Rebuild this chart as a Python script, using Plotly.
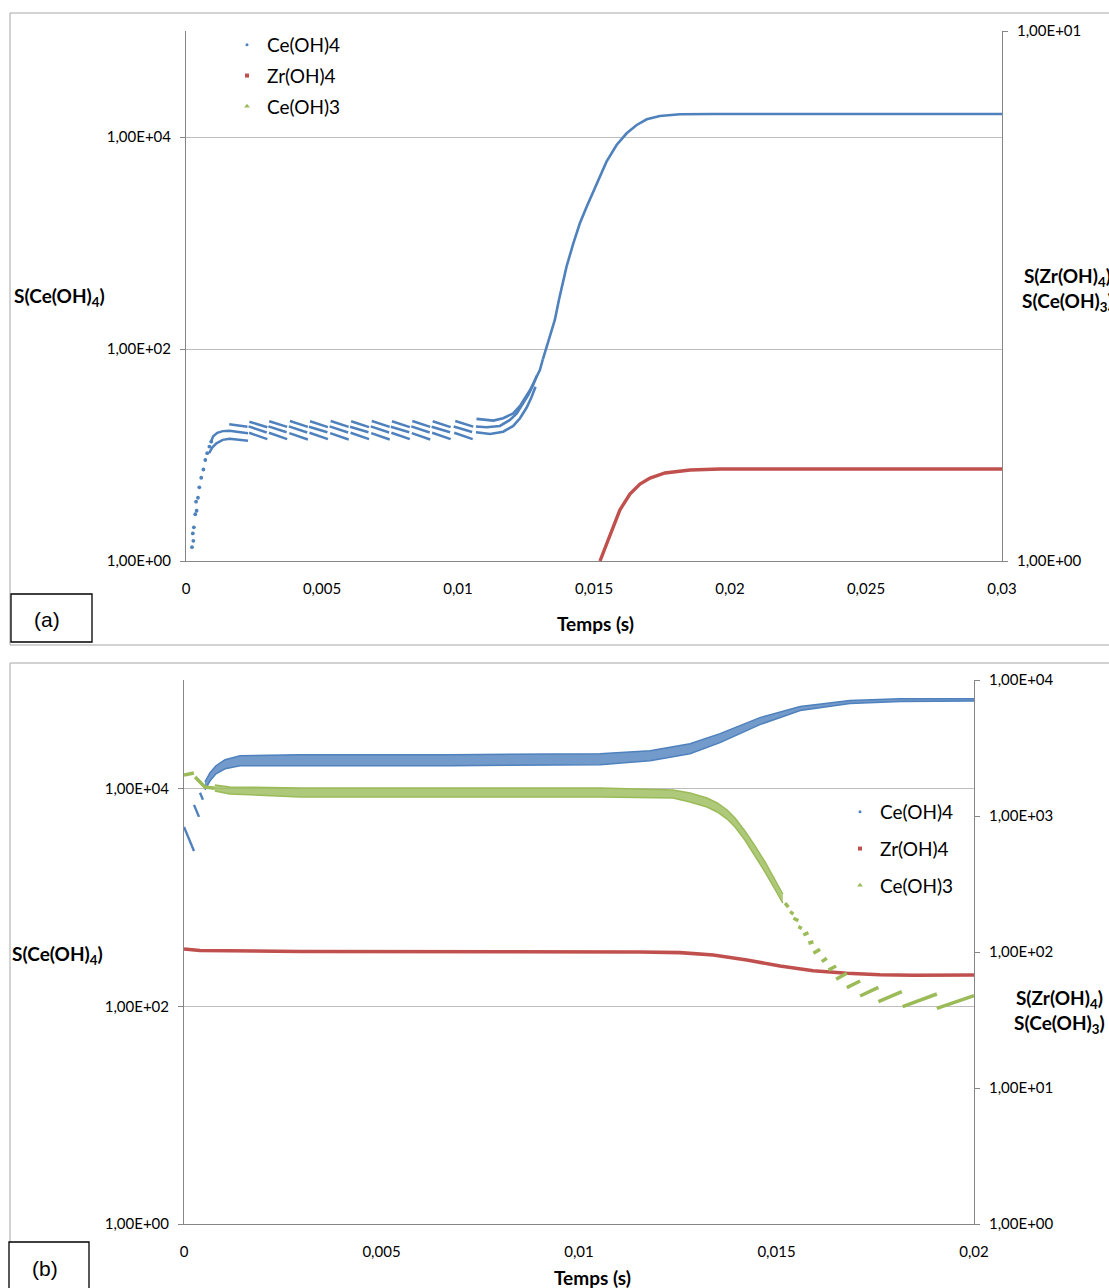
import plotly.graph_objects as go

W, H = 1109, 1288

# ---------------- Panel (a) data ----------------
a_x_tickvals = [0, 0.005, 0.01, 0.015, 0.02, 0.025, 0.03]
a_x_ticktext = ["0", "0,005", "0,01", "0,015", "0,02", "0,025", "0,03"]
a_left_tickvals = [1, 1e2, 1e4]
a_left_ticktext = ["1,00E+00", "1,00E+02", "1,00E+04"]
a_right_tickvals = [1, 10]
a_right_ticktext = ["1,00E+00", "1,00E+01"]

# Ce(OH)4 : first scattered points
a_ce4_init_t = [0.00022, 0.00025, 0.00027, 0.00029, 0.00034, 0.00037, 0.00039, 0.00044,
                0.00049, 0.00056, 0.00064, 0.00071, 0.00078, 0.00086, 0.00093]
a_ce4_init_v = [1.35, 1.82, 1.55, 2.08, 2.76, 3.63, 2.98, 3.95,
                4.96, 6.1, 7.3, 8.97, 10.4, 12.0, 13.4]
# Ce(OH)4 : transition curves into the plateau
a_ce4_tr1_t = [0.00090, 0.00100, 0.00115, 0.00135, 0.00160, 0.00228]
a_ce4_tr1_v = [13.0, 15.0, 16.2, 16.8, 16.9, 16.0]
a_ce4_tr2_t = [0.00085, 0.00097, 0.00112, 0.00135, 0.00160, 0.00228]
a_ce4_tr2_v = [10.4, 11.8, 12.9, 13.9, 14.2, 13.6]
# Ce(OH)4 : saw-tooth stripes of the plateau (three staggered rows)
a_str_t0 = [0.00159, 0.00233, 0.00306, 0.00382, 0.00456, 0.00532, 0.00607, 0.00683,
            0.00757, 0.00832, 0.00907, 0.00990]
a_str_t1 = [0.00226, 0.00299, 0.00372, 0.00448, 0.00522, 0.00598, 0.00673, 0.00749,
            0.00823, 0.00898, 0.00973, 0.01056]
a_strA_v0 = [19.5, 20.6, 20.8, 20.9, 20.8, 20.9, 20.8, 20.9, 20.8, 20.9, 20.8, 20.9]
a_strA_v1 = [18.5, 18.3, 18.4, 18.4, 18.3, 18.4, 18.3, 18.4, 18.3, 18.4, 18.3, 18.5]
a_strB_t0 = [0.00230, 0.00303, 0.00378, 0.00452, 0.00528, 0.00603, 0.00679, 0.00753,
             0.00828, 0.00903, 0.00984]
a_strB_t1 = [0.00297, 0.00370, 0.00446, 0.00520, 0.00596, 0.00671, 0.00747, 0.00821,
             0.00896, 0.00971, 0.01052]
a_strB_v0 = [18.6, 18.6, 18.6, 18.5, 18.6, 18.5, 18.6, 18.5, 18.6, 18.5, 18.6]
a_strB_v1 = [16.3, 16.4, 16.3, 16.4, 16.3, 16.4, 16.3, 16.4, 16.3, 16.4, 16.5]
a_strC_t0 = [0.00232, 0.00305, 0.00380, 0.00454, 0.00530, 0.00605, 0.00681, 0.00755,
             0.00830, 0.00905, 0.00986]
a_strC_t1 = [0.00299, 0.00372, 0.00448, 0.00522, 0.00598, 0.00673, 0.00749, 0.00823,
             0.00898, 0.00973, 0.01054]
a_strC_v0 = [16.2, 16.2, 16.1, 16.2, 16.1, 16.2, 16.1, 16.2, 16.1, 16.2, 16.2]
a_strC_v1 = [14.1, 14.1, 14.0, 14.1, 14.0, 14.1, 14.0, 14.1, 14.0, 14.1, 14.1]
# Ce(OH)4 : three curves of the rise, then merged curve
a_rise_top_t = [0.01068, 0.0113, 0.01166, 0.01203, 0.01228, 0.01246, 0.01265, 0.01283, 0.01301, 0.01312]
a_rise_top_v = [21.9, 21.1, 22.2, 24.7, 29.0, 34.3, 41.0, 51.0, 63.4, 80.0]
a_rise_mid_t = [0.01066, 0.01105, 0.01154, 0.01191, 0.01216, 0.0124, 0.01258, 0.01275, 0.0129]
a_rise_mid_v = [18.6, 18.3, 18.8, 21.4, 24.7, 30.7, 36.8, 45.0, 56.0]
a_rise_bot_t = [0.01066, 0.01118, 0.01166, 0.01203, 0.01228, 0.01253, 0.0127, 0.01285]
a_rise_bot_v = [16.4, 15.8, 16.6, 18.8, 22.2, 28.2, 35.0, 44.0]
a_ce4_main_t = [0.01312, 0.01324, 0.01338, 0.01356, 0.01371, 0.01399, 0.01424, 0.01448, 0.01473,
                0.0151, 0.01546, 0.01583, 0.0162, 0.01657, 0.01694, 0.01742, 0.01816, 0.01938, 0.03]
a_ce4_main_v = [80, 100, 135, 188, 290, 598, 993, 1535, 2200,
                3650, 5850, 8410, 10840, 12980, 14690, 15780, 16370, 16480, 16480]
# Zr(OH)4 (right axis)
a_zr4_t = [0.01522, 0.0154, 0.01559, 0.01577, 0.01595, 0.01632, 0.01669, 0.01706,
           0.01761, 0.01853, 0.01963, 0.03]
a_zr4_v = [1.0, 1.058, 1.12, 1.185, 1.248, 1.338, 1.397, 1.434, 1.466, 1.485, 1.491, 1.491]

# ---------------- Panel (b) data ----------------
b_x_tickvals = [0, 0.005, 0.01, 0.015, 0.02]
b_x_ticktext = ["0", "0,005", "0,01", "0,015", "0,02"]
b_left_tickvals = [1, 1e2, 1e4]
b_left_ticktext = ["1,00E+00", "1,00E+02", "1,00E+04"]
b_right_tickvals = [1, 10, 100, 1000, 10000]
b_right_ticktext = ["1,00E+00", "1,00E+01", "1,00E+02", "1,00E+03", "1,00E+04"]

# Ce(OH)4 (left axis): first short runs
b_ce4_run_t = [[0, 0.00013, 0.000253], [0.000253, 0.00038], [0.000405, 0.00048]]
b_ce4_run_v = [[4465, 3460, 2685], [7120, 5520], [9190, 7925]]
# Ce(OH)4 band (upper / lower envelope)
b_ce4_band_t = [0.00053, 0.00066, 0.00081, 0.00104, 0.00142, 0.00294, 0.00674, 0.01053,
                0.0118, 0.01281, 0.01357, 0.01458, 0.0156, 0.01686, 0.01813, 0.02]
b_ce4_up_v = [11610, 14040, 16290, 18500, 20140, 20570, 20570, 21040,
              22400, 25980, 32150, 45100, 57000, 64700, 67400, 67400]
b_ce4_lo_v = [9790, 11850, 13750, 15280, 16290, 16290, 16290, 16640,
              18120, 21040, 26550, 38900, 52400, 60700, 63400, 64000]
# Zr(OH)4 (right axis)
b_zr4_t = [0, 0.0004, 0.00294, 0.008, 0.01155, 0.01256, 0.0134, 0.01425, 0.01509,
           0.01593, 0.01636, 0.01678, 0.01762, 0.01847, 0.02]
b_zr4_v = [105.2, 102.6, 100.8, 100.8, 100.0, 98.9, 95.1, 87.4, 78.8,
           72.9, 71.3, 69.7, 68.1, 67.4, 67.8]
# Ce(OH)3 (right axis)
b_ce3_run_t = [[0, 0.0001, 0.0002, 0.00025], [0.00028, 0.0004, 0.00053, 0.00078]]
b_ce3_run_v = [[2000, 2040, 2070, 2070], [1936, 1778, 1633, 1600]]
b_ce3_band_t = [0.00078, 0.00116, 0.00294, 0.00674, 0.01053, 0.01238, 0.01281, 0.01324,
                0.0135, 0.01375, 0.01395, 0.0142, 0.01446, 0.01471, 0.01496, 0.01516]
b_ce3_up_v = [1690, 1634, 1607, 1607, 1607, 1553, 1476, 1356,
              1247, 1107, 967, 776, 601, 459, 344, 267]
b_ce3_lo_v = [1527, 1452, 1380, 1380, 1380, 1356, 1267, 1164,
              1070, 950, 830, 666, 508, 387, 290, 229]
b_ce3_dash_t0 = [0.015217, 0.015344, 0.015428, 0.015554, 0.01568, 0.015807, 0.015934, 0.016147,
                 0.016314, 0.016509, 0.01678, 0.017117, 0.01758, 0.018193, 0.019059]
b_ce3_dash_t1 = [0.015301, 0.015428, 0.015554, 0.01564, 0.015807, 0.015934, 0.016104, 0.016273,
                 0.016509, 0.01678, 0.017117, 0.01758, 0.018173, 0.019059, 0.020]
b_ce3_dash_v0 = [229, 198, 177, 153.6, 133.4, 115.9, 97.8, 84.9, 73.8, 63.0, 54.7, 47.5, 43.1, 39.7, 38.5]
b_ce3_dash_v1 = [214, 190, 170, 149, 138.6, 119, 104.7, 89.9, 78.9, 69.9, 61.2, 55.0, 51.2, 49.1, 47.7]

BLUE = "#4F81BD"
RED = "#C0504D"
GREEN = "#9BBB59"
FONT = "Lato"


def join_runs(ts, vs):
    X, Y = [], []
    for t, v in zip(ts, vs):
        X += list(t) + [None]
        Y += list(v) + [None]
    return X, Y


def stripes(t0, t1, v0, v1):
    return join_runs([[a, b] for a, b in zip(t0, t1)], [[a, b] for a, b in zip(v0, v1)])


fig = go.Figure()

# ---------- Panel (a) traces ----------
fig.add_trace(go.Scatter(x=a_ce4_init_t, y=a_ce4_init_v, mode="markers",
                         marker=dict(color=BLUE, size=3.8), showlegend=False, xaxis="x", yaxis="y"))
xs, ys = join_runs([a_ce4_tr1_t, a_ce4_tr2_t], [a_ce4_tr1_v, a_ce4_tr2_v])
fig.add_trace(go.Scatter(x=xs, y=ys, mode="lines", line=dict(color=BLUE, width=2.5),
                         showlegend=False, xaxis="x", yaxis="y"))
for t0, t1, v0, v1 in [(a_str_t0, a_str_t1, a_strA_v0, a_strA_v1),
                       (a_strB_t0, a_strB_t1, a_strB_v0, a_strB_v1),
                       (a_strC_t0, a_strC_t1, a_strC_v0, a_strC_v1)]:
    xs, ys = stripes(t0, t1, v0, v1)
    fig.add_trace(go.Scatter(x=xs, y=ys, mode="lines", line=dict(color=BLUE, width=2.5),
                             showlegend=False, xaxis="x", yaxis="y"))
xs, ys = join_runs([a_rise_top_t, a_rise_mid_t, a_rise_bot_t, a_ce4_main_t],
                   [a_rise_top_v, a_rise_mid_v, a_rise_bot_v, a_ce4_main_v])
fig.add_trace(go.Scatter(x=xs, y=ys, mode="lines", line=dict(color=BLUE, width=2.6),
                         showlegend=False, xaxis="x", yaxis="y"))
fig.add_trace(go.Scatter(x=a_zr4_t, y=a_zr4_v, mode="lines", line=dict(color=RED, width=3.4),
                         showlegend=False, xaxis="x", yaxis="y2"))

# legend (a)
for name, col, sym, sz, grp in [("Ce(OH)4", BLUE, "circle", 3, "a1"), ("Zr(OH)4", RED, "square", 4, "a2"),
                                ("Ce(OH)3", GREEN, "triangle-up", 5, "a3")]:
    fig.add_trace(go.Scatter(x=[None], y=[None], mode="markers", name=name, legendgroup=grp,
                             marker=dict(color=col, size=sz, symbol=sym), legend="legend",
                             xaxis="x", yaxis="y"))

# ---------- Panel (b) traces ----------
xs, ys = join_runs(b_ce4_run_t, b_ce4_run_v)
fig.add_trace(go.Scatter(x=xs, y=ys, mode="lines", line=dict(color=BLUE, width=2.4),
                         showlegend=False, xaxis="x2", yaxis="y3"))
fig.add_trace(go.Scatter(x=b_ce4_band_t, y=b_ce4_lo_v, mode="lines", line=dict(color=BLUE, width=1.5),
                         showlegend=False, xaxis="x2", yaxis="y3"))
fig.add_trace(go.Scatter(x=b_ce4_band_t, y=b_ce4_up_v, mode="lines", line=dict(color=BLUE, width=1.5),
                         fill="tonexty", fillcolor="rgba(79,129,189,0.8)",
                         showlegend=False, xaxis="x2", yaxis="y3"))

fig.add_trace(go.Scatter(x=b_zr4_t, y=b_zr4_v, mode="lines", line=dict(color=RED, width=3.6),
                         showlegend=False, xaxis="x2", yaxis="y4"))

xs, ys = join_runs(b_ce3_run_t, b_ce3_run_v)
fig.add_trace(go.Scatter(x=xs, y=ys, mode="lines", line=dict(color=GREEN, width=3.5),
                         showlegend=False, xaxis="x2", yaxis="y4"))
fig.add_trace(go.Scatter(x=b_ce3_band_t, y=b_ce3_lo_v, mode="lines", line=dict(color=GREEN, width=1.5),
                         showlegend=False, xaxis="x2", yaxis="y4"))
fig.add_trace(go.Scatter(x=b_ce3_band_t, y=b_ce3_up_v, mode="lines", line=dict(color=GREEN, width=1.5),
                         fill="tonexty", fillcolor="rgba(155,187,89,0.8)",
                         showlegend=False, xaxis="x2", yaxis="y4"))
xs, ys = stripes(b_ce3_dash_t0, b_ce3_dash_t1, b_ce3_dash_v0, b_ce3_dash_v1)
fig.add_trace(go.Scatter(x=xs, y=ys, mode="lines", line=dict(color=GREEN, width=3.5),
                         showlegend=False, xaxis="x2", yaxis="y4"))

# legend (b)
for name, col, sym, sz, grp in [("Ce(OH)4", BLUE, "circle", 3, "b1"), ("Zr(OH)4", RED, "square", 4, "b2"),
                                ("Ce(OH)3", GREEN, "triangle-up", 5, "b3")]:
    fig.add_trace(go.Scatter(x=[None], y=[None], mode="markers", name=name, legendgroup=grp,
                             marker=dict(color=col, size=sz, symbol=sym), legend="legend2",
                             xaxis="x2", yaxis="y3"))


def px_x(x):
    return x / W


def px_y(y):
    return (H - y) / H


AX_COL = "#868686"
GRID_COL = "#BDBDBD"
tickfont = dict(family=FONT, size=15, color="#000000")

common_y = dict(type="log", showline=True, linecolor=AX_COL, linewidth=1, ticks="outside",
                ticklen=5, tickcolor=AX_COL, tickfont=tickfont, automargin=False, zeroline=False)
common_x = dict(showline=True, linecolor=AX_COL, linewidth=1, showgrid=False, ticks="",
                tickfont=tickfont, automargin=False, zeroline=False)

fig.update_layout(
    width=W, height=H,
    margin=dict(l=0, r=0, t=0, b=0),
    paper_bgcolor="white", plot_bgcolor="white",
    font=dict(family=FONT, color="#000000"),
    xaxis=dict(domain=[px_x(186), px_x(1002)], anchor="y", range=[0, 0.03],
               tickvals=a_x_tickvals, ticktext=a_x_ticktext, ticklabelstandoff=14, **common_x),
    yaxis=dict(domain=[px_y(561), px_y(31)], anchor="x", range=[0, 5],
               tickvals=a_left_tickvals, ticktext=a_left_ticktext, showgrid=True, gridcolor=GRID_COL,
               ticklabelstandoff=6, **common_y),
    yaxis2=dict(overlaying="y", side="right", anchor="x", range=[0, 1], tickvals=a_right_tickvals,
                ticktext=a_right_ticktext, showgrid=False, ticklabelstandoff=6, **common_y),
    xaxis2=dict(domain=[px_x(184), px_x(974)], anchor="y3", range=[0, 0.02],
                tickvals=b_x_tickvals, ticktext=b_x_ticktext, ticklabelstandoff=14, **common_x),
    yaxis3=dict(domain=[px_y(1224), px_y(680)], anchor="x2", range=[0, 5],
                tickvals=b_left_tickvals, ticktext=b_left_ticktext, showgrid=True, gridcolor=GRID_COL,
                ticklabelstandoff=6, **common_y),
    yaxis4=dict(overlaying="y3", side="right", anchor="x2", range=[0, 4], tickvals=b_right_tickvals,
                ticktext=b_right_ticktext, showgrid=False, ticklabelstandoff=6, **common_y),
    legend=dict(x=px_x(227), y=px_y(26), xanchor="left", yanchor="top", bgcolor="rgba(255,255,255,0)",
                font=dict(family=FONT, size=19), tracegroupgap=3, itemwidth=30),
    legend2=dict(x=px_x(840), y=px_y(793), xanchor="left", yanchor="top", bgcolor="rgba(255,255,255,0)",
                 font=dict(family=FONT, size=19), tracegroupgap=9, itemwidth=30),
    showlegend=True,
)

shapes = [
    # chart area borders
    dict(type="rect", xref="paper", yref="paper", x0=px_x(10), x1=px_x(1125), y0=px_y(645), y1=px_y(13),
         line=dict(color="#A6A6A6", width=1), layer="below"),
    dict(type="rect", xref="paper", yref="paper", x0=px_x(10), x1=px_x(1125), y0=px_y(1300), y1=px_y(663),
         line=dict(color="#A6A6A6", width=1), layer="below"),
    # (a) and (b) label boxes
    dict(type="rect", xref="paper", yref="paper", x0=px_x(11), x1=px_x(92), y0=px_y(642), y1=px_y(594),
         line=dict(color="#000000", width=1.3), fillcolor="white"),
    dict(type="rect", xref="paper", yref="paper", x0=px_x(9), x1=px_x(89), y0=px_y(1300), y1=px_y(1242),
         line=dict(color="#000000", width=1.3), fillcolor="white"),
]

ann_font_b = dict(family=FONT, size=19, color="#000000")
annotations = [
    dict(x=px_x(12), y=px_y(297), xref="paper", yref="paper", xanchor="left", yanchor="middle",
         text="<b>S(Ce(OH)<sub>4</sub>)</b>", showarrow=False, font=ann_font_b),
    dict(x=px_x(1020), y=px_y(290), xref="paper", yref="paper", xanchor="left", yanchor="middle",
         text="<b>S(Zr(OH)<sub>4</sub>)</b><br><b>S(Ce(OH)<sub>3</sub>)</b>", showarrow=False,
         font=ann_font_b, align="center"),
    dict(x=px_x(595), y=px_y(623), xref="paper", yref="paper", xanchor="center", yanchor="middle",
         text="<b>Temps (s)</b>", showarrow=False, font=ann_font_b),
    dict(x=px_x(47), y=px_y(619), xref="paper", yref="paper", xanchor="center", yanchor="middle",
         text="(a)", showarrow=False, font=dict(family="Liberation Sans", size=21, color="#000000")),
    dict(x=px_x(10), y=px_y(955), xref="paper", yref="paper", xanchor="left", yanchor="middle",
         text="<b>S(Ce(OH)<sub>4</sub>)</b>", showarrow=False, font=ann_font_b),
    dict(x=px_x(1107), y=px_y(1011), xref="paper", yref="paper", xanchor="right", yanchor="middle",
         text="<b>S(Zr(OH)<sub>4</sub>)</b><br><b>S(Ce(OH)<sub>3</sub>)</b>", showarrow=False,
         font=ann_font_b, align="center"),
    dict(x=px_x(592), y=px_y(1277), xref="paper", yref="paper", xanchor="center", yanchor="middle",
         text="<b>Temps (s)</b>", showarrow=False, font=ann_font_b),
    dict(x=px_x(45), y=px_y(1268), xref="paper", yref="paper", xanchor="center", yanchor="middle",
         text="(b)", showarrow=False, font=dict(family="Liberation Sans", size=21, color="#000000")),
]
fig.update_layout(shapes=shapes, annotations=annotations)

fig.write_html("out.html", post_script="document.body.style.margin='0px';",
               config={"displayModeBar": False})
